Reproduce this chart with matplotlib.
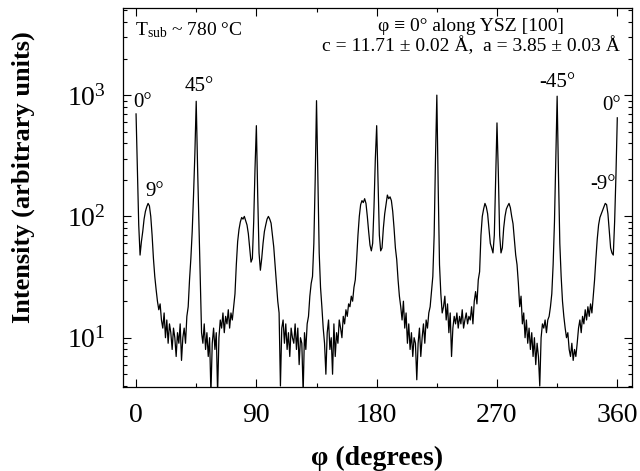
import numpy as np
import matplotlib
matplotlib.use('Agg')
import matplotlib.pyplot as plt
from matplotlib.ticker import MultipleLocator, LogLocator, NullFormatter

plt.rcParams['font.family'] = ['Liberation Serif', 'DejaVu Serif']
plt.rcParams['mathtext.fontset'] = 'custom'
plt.rcParams['mathtext.rm'] = 'Liberation Serif'
plt.rcParams['mathtext.it'] = 'Liberation Serif:italic'
plt.rcParams['mathtext.bf'] = 'Liberation Serif:bold'

# phi scan, 1 degree steps
phi = np.arange(0, 361)
intensity = [
    700, 240, 85, 48, 62, 75, 95, 110, 120, 128,        # 0
    122, 100, 70, 45, 32, 25, 20, 17, 19, 14,           # 10
    12, 16, 10, 14, 9, 13, 11, 8, 12, 10,               # 20
    7, 11, 9, 13, 6.5, 10, 12, 9, 15, 18,               # 30
    30, 45, 75, 150, 330, 890, 260, 90, 30, 11,         # 40
    9, 13, 8, 11, 7, 10, 3.5, 9, 12, 8,                 # 50
    11, 3.5, 10, 14, 12, 16, 11, 15, 13, 17,            # 60
    12, 16, 14, 18, 23, 40, 62, 78, 90, 98,             # 70
    95, 100, 92, 85, 72, 55, 42, 45, 90, 250,           # 80
    560, 150, 50, 36, 45, 60, 75, 85, 95, 100,          # 90
    95, 88, 70, 56, 40, 28, 20, 16, 4, 12,              # 100
    14, 9, 13, 8, 11, 7, 12, 10, 9, 13,                 # 110
    8, 12, 6, 10, 9, 3.5, 11, 8, 13, 15,                # 120
    22, 28, 32, 60, 200, 900, 220, 50, 26, 18,          # 130
    12, 9, 5, 11, 14, 8, 10, 5, 13, 7,                  # 140
    11, 9, 14, 12, 10, 15, 13, 17, 15, 19,              # 150
    18, 22, 20, 26, 30, 44, 70, 100, 125, 135,          # 160
    130, 140, 128, 100, 75, 58, 52, 60, 120, 300,       # 170
    560, 200, 70, 52, 55, 80, 105, 125, 150, 140,       # 180
    145, 135, 110, 80, 55, 44, 30, 22, 18, 14,          # 190
    20, 12, 16, 9, 13, 8, 11, 7, 10, 9,                 # 200
    4.5, 9, 12, 7, 10, 13, 9, 14, 12, 16,               # 210
    18, 24, 32, 70, 300, 1000, 180, 40, 23, 16,         # 220
    18, 22, 14, 19, 11, 16, 7, 12, 15, 13,              # 230
    16, 12, 15, 13, 17, 12, 14, 16, 13, 15,             # 240
    14, 18, 13, 20, 24, 19, 30, 35, 70, 100,            # 250
    115, 128, 120, 105, 80, 60, 55, 50, 70, 200,        # 260
    590, 230, 70, 50, 55, 80, 100, 115, 122, 128,       # 270
    118, 100, 87, 65, 48, 40, 28, 18, 22, 13,           # 280
    16, 10, 14, 9, 12, 8, 11, 7, 10, 6,                 # 290
    9, 7, 4, 10, 13, 12, 14, 11, 14, 15,                # 300
    18, 23, 40, 90, 300, 980, 220, 60, 32, 20,          # 310
    15, 12, 10, 11, 8, 7, 9, 6.5, 8, 7,                 # 320
    9, 12, 14, 11, 15, 13, 17, 14, 18, 15,              # 330
    19, 16, 22, 30, 45, 65, 85, 98, 105, 112,           # 340
    120, 128, 125, 105, 75, 55, 50, 48, 90, 220,        # 350
    650,                                                # 360
]

# peak labels: text, phi, intensity
peak_labels = ['0°', '9°', '45°', '-45°', '0°', '-9°']
label_phi = [-2, 14, 47.4, 315, 355.5, 349]
label_int = [870, 160, 1170, 1260, 815, 183]

fig = plt.figure(figsize=(6.4, 4.71), dpi=100)
ax = fig.add_axes([0.1917, 0.1777, 0.7958, 0.8047])

ax.plot(phi, intensity, color='black', lw=0.9)

ax.set_yscale('log')
ax.set_xlim(-10, 371)
ax.set_ylim(3.9, 5200)

ax.xaxis.set_major_locator(MultipleLocator(90))
ax.xaxis.set_minor_locator(MultipleLocator(45))
ax.yaxis.set_major_locator(LogLocator(base=10, numticks=10))
ax.yaxis.set_minor_locator(LogLocator(base=10, subs=np.arange(2, 10), numticks=10))
ax.yaxis.set_minor_formatter(NullFormatter())

ax.tick_params(which='both', direction='in', top=True, right=True, width=0.8)
ax.tick_params(which='major', length=6, labelsize=20)
ax.tick_params(which='minor', length=3)
ax.tick_params(axis='x', pad=11)
ax.tick_params(axis='y', pad=12)
for sp in ax.spines.values():
    sp.set_linewidth(0.9)

ax.set_xlabel('φ (degrees)', fontsize=20, fontweight='bold')
ax.xaxis.set_label_coords(0.5, -0.155)
ax.set_ylabel('Intensity (arbitrary units)', fontsize=19, fontweight='bold')
ax.yaxis.set_label_coords(-0.172, 0.555)

# peak annotations
for i in range(len(peak_labels)):
    ha = 'left' if i == 0 else 'center'
    ax.text(label_phi[i], label_int[i], peak_labels[i], fontsize=15,
            ha=ha, va='center')

ax.text(0.024, 0.943, r'T$_{\mathrm{sub}}$ ~ 780 °C', fontsize=14,
        transform=ax.transAxes, ha='left', va='center')
ax.text(0.684, 0.952, 'φ ≡ 0° along YSZ [100]', fontsize=14,
        transform=ax.transAxes, ha='center', va='center')
ax.text(0.684, 0.9, 'c = 11.71 ± 0.02 Å,  a = 3.85 ± 0.03 Å', fontsize=14,
        transform=ax.transAxes, ha='center', va='center')

plt.savefig('out.png', dpi=100)
